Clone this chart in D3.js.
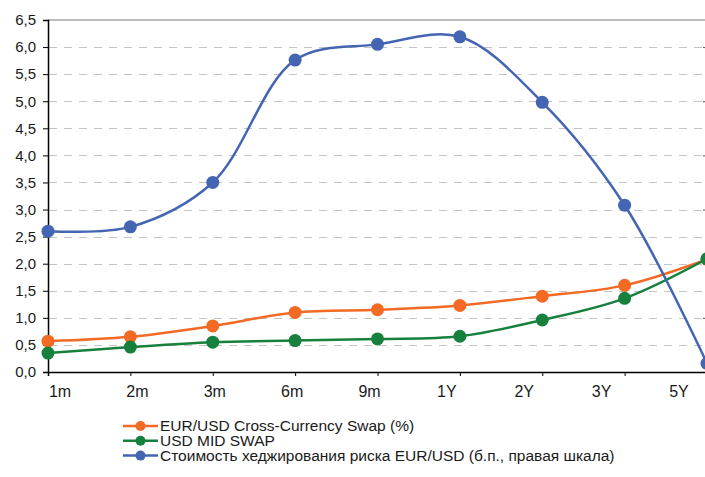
<!DOCTYPE html>
<meta charset="utf-8">
<style>

body {
  margin: 0;
  background: #fff;
}

svg {
  font-family: "Liberation Sans", Arial, sans-serif;
  display: block;
}

.grid line {
  stroke: #c4c4c4;
  stroke-dasharray: 8,7;
}

.series path {
  fill: none;
  stroke-width: 2.5px;
}

</style>
<svg width="705" height="477"></svg>
<script src="https://d3js.org/d3.v7.min.js"></script>
<script>

var categories = ["1m", "2m", "3m", "6m", "9m", "1Y", "2Y", "3Y", "5Y"];

var yTicks = [0, 0.5, 1, 1.5, 2, 2.5, 3, 3.5, 4, 4.5, 5, 5.5, 6, 6.5];

var ccsValues = [0.57, 0.65, 0.85, 1.1, 1.15, 1.23, 1.4, 1.6, 2.08];
var midSwapValues = [0.35, 0.46, 0.55, 0.58, 0.61, 0.66, 0.96, 1.36, 2.09];
// right scale, b.p.
var hedgeValues = [26, 26.8, 35, 57.6, 60.5, 61.9, 49.8, 30.8, 1.6];

var legendLabels = [
  "EUR/USD Cross-Currency Swap (%)",
  "USD MID SWAP",
  "Стоимость хеджирования риска EUR/USD (б.п., правая шкала)"
];

var colors = ["#f36a25", "#17803d", "#4465b2"];

var plotLeft = 48, plotRight = 707, plotTop = 20, plotBottom = 372;

var svg = d3.select("svg");

var x = d3.scalePoint()
    .domain(categories)
    .range([plotLeft, plotRight]);

// labels in the original drift slightly left of their ticks
var xLabel = d3.scalePoint()
    .domain(categories)
    .range([60, 679]);

var y = d3.scaleLinear()
    .domain([0, 6.5])
    .range([plotBottom, plotTop]);

var yRight = d3.scaleLinear()
    .domain([0, 65])
    .range([plotBottom, plotTop]);

// grid
svg.append("g")
    .attr("class", "grid")
  .selectAll("line")
  .data(yTicks.filter(function(d) { return d > 0 && d < 6.5; }))
  .enter().append("line")
    .attr("x1", plotLeft + 1)
    .attr("x2", plotRight)
    .attr("y1", function(d) { return Math.round(y(d)) + 0.5; })
    .attr("y2", function(d) { return Math.round(y(d)) + 0.5; });

svg.append("line")
    .attr("x1", plotLeft)
    .attr("x2", plotRight)
    .attr("y1", y(6.5))
    .attr("y2", y(6.5))
    .attr("stroke", "#a6a6a6")
    .attr("stroke-width", 1.5);

// left axis
var yAxis = svg.append("g")
    .attr("transform", "translate(" + plotLeft + ",0)")
    .call(d3.axisLeft(y)
        .tickValues(yTicks)
        .tickSize(5)
        .tickPadding(7)
        .tickFormat(function(d) { return d3.format(".1f")(d).replace(".", ","); }));

yAxis.select(".domain").attr("stroke", "#000").attr("stroke-width", 1.5);
yAxis.selectAll(".tick line").attr("stroke", "#000");
yAxis.selectAll("text")
    .attr("font-size", 15)
    .attr("fill", "#1a1a1a");

// right axis, only its inner ticks are in view
var yAxisRight = svg.append("g")
    .attr("transform", "translate(" + plotRight + ",0)")
    .call(d3.axisRight(yRight)
        .ticks(7)
        .tickSize(-4)
        .tickFormat(""));

yAxisRight.select(".domain").remove();
yAxisRight.selectAll(".tick line").attr("stroke", "#555");

// bottom axis
var xAxis = svg.append("g")
    .attr("transform", "translate(0," + plotBottom + ")")
    .call(d3.axisBottom(x).tickSize(4).tickFormat(""));

xAxis.select(".domain").attr("stroke", "#000").attr("stroke-width", 1.5);
xAxis.selectAll(".tick line").attr("stroke", "#000");

svg.append("g")
  .selectAll("text")
  .data(categories)
  .enter().append("text")
    .attr("x", function(d) { return xLabel(d); })
    .attr("y", plotBottom + 25)
    .attr("text-anchor", "middle")
    .attr("font-size", 16)
    .attr("fill", "#1a1a1a")
    .text(function(d) { return d; });

// series
var series = [
  {values: ccsValues, scale: y, color: colors[0]},
  {values: midSwapValues, scale: y, color: colors[1]},
  {values: hedgeValues, scale: yRight, color: colors[2]}
];

var g = svg.append("g").attr("class", "series");

series.forEach(function(s) {
  var line = d3.line()
      .x(function(d, i) { return x(categories[i]); })
      .y(function(d) { return s.scale(d); })
      .curve(d3.curveCatmullRom.alpha(0.5));

  g.append("path")
      .attr("d", line(s.values))
      .attr("stroke", s.color);

  g.selectAll(null)
    .data(s.values)
    .enter().append("circle")
      .attr("cx", function(d, i) { return x(categories[i]); })
      .attr("cy", function(d) { return s.scale(d); })
      .attr("r", 6.5)
      .attr("fill", s.color);
});

// legend
var legend = svg.append("g")
    .attr("transform", "translate(123,426)");

var item = legend.selectAll("g")
    .data(legendLabels)
  .enter().append("g")
    .attr("transform", function(d, i) { return "translate(0," + (i * 14.8) + ")"; });

item.append("line")
    .attr("x1", 0)
    .attr("x2", 35)
    .attr("stroke", function(d, i) { return colors[i]; })
    .attr("stroke-width", 2.5);

item.append("circle")
    .attr("cx", 17.5)
    .attr("r", 5)
    .attr("fill", function(d, i) { return colors[i]; });

item.append("text")
    .attr("x", 37)
    .attr("dy", "0.35em")
    .attr("font-size", 15.5)
    .attr("fill", "#1a1a1a")
    .text(function(d) { return d; });

</script>
